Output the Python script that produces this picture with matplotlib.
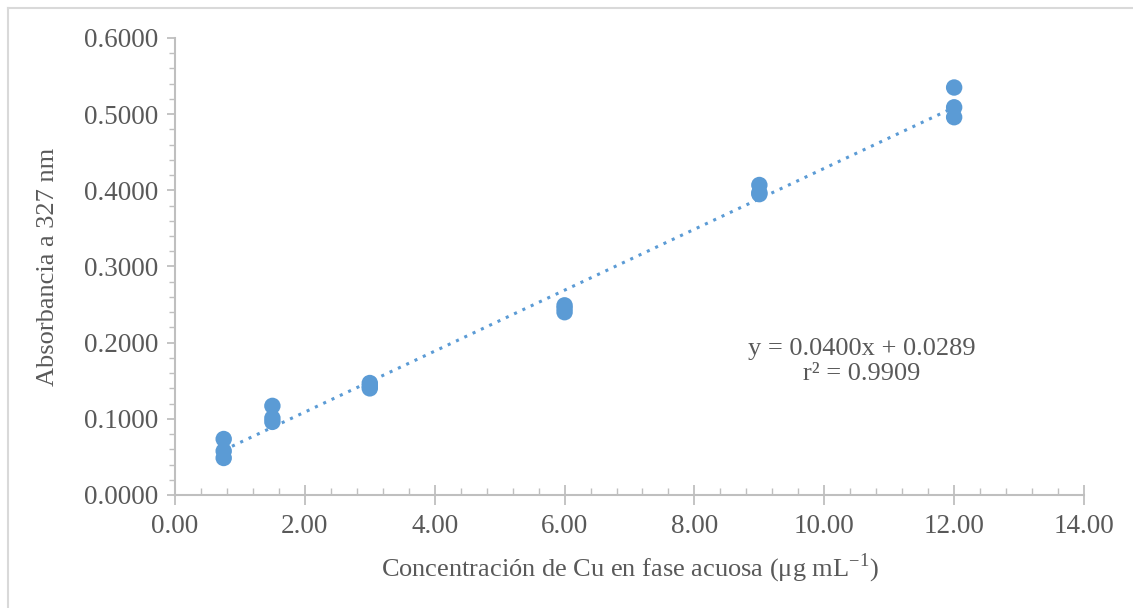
import matplotlib
matplotlib.use("Agg")
import matplotlib.pyplot as plt
from matplotlib.ticker import MultipleLocator, FormatStrFormatter
import numpy as np

conc = [0.75, 0.75, 0.75, 1.5, 1.5, 1.5, 3.0, 3.0, 3.0, 6.0, 6.0, 6.0, 9.0, 9.0, 9.0, 12.0, 12.0, 12.0]
absorb = [0.0735, 0.0577, 0.0486, 0.117, 0.101, 0.096, 0.147, 0.143, 0.140,
          0.249, 0.245, 0.240, 0.407, 0.397, 0.395, 0.535, 0.509, 0.496]
slope = 0.0400
intercept = 0.0289
eq_text = "y = 0.0400x + 0.0289\nr² = 0.9909"
xlabel = "Concentración de Cu en fase acuosa (μg mL$^{\\mathregular{-1}}$)"
ylabel = "Absorbancia a 327 nm"

plt.rcParams['font.family'] = ['Liberation Serif', 'DejaVu Serif']
plt.rcParams['mathtext.fontset'] = 'custom'
plt.rcParams['mathtext.rm'] = 'Liberation Serif'

txt = '#595959'
grid_c = '#bfbfbf'
blue = '#5B9BD5'

fig = plt.figure(figsize=(11.33, 6.08), dpi=100)
ax = fig.add_axes([175/1133, 1 - 495/608, (1084-175)/1133, (495-38)/608])

xs = np.array([min(conc), max(conc)])
ax.plot(xs, slope*xs + intercept, linestyle=(0, (1, 2)), color=blue, lw=2.2, zorder=2)
ax.scatter(conc, absorb, s=140, color=blue, edgecolors='none', zorder=3)

ax.set_xlim(0, 14)
ax.set_ylim(0, 0.6)
ax.xaxis.set_major_locator(MultipleLocator(2))
ax.xaxis.set_minor_locator(MultipleLocator(0.4))
ax.yaxis.set_major_locator(MultipleLocator(0.1))
ax.yaxis.set_minor_locator(MultipleLocator(0.02))
ax.xaxis.set_major_formatter(FormatStrFormatter('%.2f'))
ax.yaxis.set_major_formatter(FormatStrFormatter('%.4f'))

for s in ['top', 'right']:
    ax.spines[s].set_visible(False)
for s in ['left', 'bottom']:
    ax.spines[s].set_color(grid_c)
    ax.spines[s].set_linewidth(1.5)

ax.tick_params(axis='both', which='major', colors=grid_c, labelcolor=txt, labelsize=19.5,
               direction='out', length=6, width=1.3)
ax.tick_params(axis='both', which='minor', colors=grid_c, direction='out', length=4, width=1.0)
ax.tick_params(axis='x', which='major', direction='inout', length=14, pad=7)
ax.tick_params(axis='x', which='minor', direction='in', length=5)
ax.tick_params(axis='y', which='major', pad=6)

ax.set_xlabel(xlabel, fontsize=19, color=txt, labelpad=9)
ax.set_ylabel(ylabel, fontsize=19, color=txt, labelpad=18)

ax.text(10.58, 0.175, eq_text, ha='center', va='center', fontsize=19, color=txt,
        linespacing=1.15)

# outer chart border
fig.add_artist(plt.Line2D([8/1133, 8/1133], [0, 1 - 8/608], transform=fig.transFigure,
                          color='#d9d9d9', lw=1.5))
fig.add_artist(plt.Line2D([8/1133, 1], [1 - 8/608, 1 - 8/608], transform=fig.transFigure,
                          color='#d9d9d9', lw=1.5))

fig.savefig('out.png', dpi=100)
